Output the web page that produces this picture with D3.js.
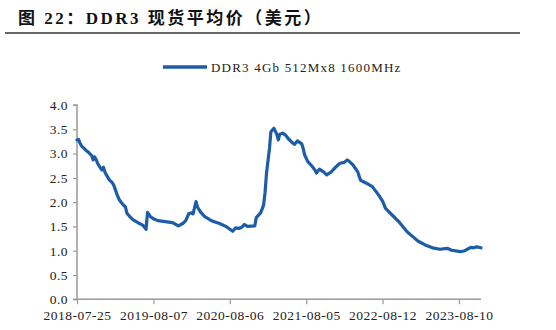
<!DOCTYPE html>
<html>
<head>
<meta charset="utf-8">
<script src="https://cdn.jsdelivr.net/npm/d3@7"></script>
<style>
  html, body { margin: 0; padding: 0; background: #fff; }
  svg { display: block; }
</style>
</head>
<body>
<svg id="chart" width="556" height="330"></svg>
<script>
// DDR3 4Gb 512Mx8 1600MHz spot average price (USD), weekly observations
const seriesName = "DDR3 4Gb 512Mx8 1600MHz";
const weeks = [0,1,2,3,6,8,10,11,12,13,14,16,17,18,19,20,22,24,25,27,28,29,31,33,34,36,38,42,45,47,48,50,52,55,60,65,69,72,74,76,78,79,81,82,84,87,92,97,102,106,108,110,112,114,116,121,122,125,127,128,129,131,132,134,136,137,138,140,142,144,146,148,150,153,154,155,157,160,162,163,165,167,168,170,173,176,179,182,184,186,188,191,193,197,201,205,208,210,215,219,222,225,229,232,237,242,247,252,255,261,264,268,270,272,275];
const prices = [3.28,3.29,3.22,3.16,3.07,3.02,2.96,2.87,2.93,2.88,2.80,2.70,2.66,2.72,2.62,2.56,2.46,2.40,2.35,2.18,2.10,2.04,1.96,1.90,1.77,1.70,1.64,1.57,1.52,1.44,1.79,1.70,1.66,1.62,1.60,1.58,1.51,1.56,1.62,1.76,1.78,1.76,2.01,1.90,1.80,1.70,1.61,1.56,1.49,1.40,1.47,1.46,1.48,1.54,1.50,1.51,1.68,1.78,1.94,2.20,2.60,3.10,3.45,3.52,3.40,3.28,3.40,3.42,3.38,3.30,3.24,3.19,3.26,3.20,3.10,2.97,2.84,2.74,2.66,2.60,2.68,2.64,2.62,2.56,2.62,2.72,2.80,2.82,2.87,2.82,2.76,2.63,2.45,2.39,2.32,2.16,2.02,1.87,1.72,1.60,1.49,1.38,1.28,1.20,1.12,1.06,1.03,1.05,1.01,0.98,1.00,1.07,1.06,1.08,1.06];
const tickWeeks = [0, 52, 104, 156, 208, 260];
const tickLabels = ["2018-07-25", "2019-08-07", "2020-08-06", "2021-08-05", "2022-08-12", "2023-08-10"];
const yTicks = [0, 0.5, 1.0, 1.5, 2.0, 2.5, 3.0, 3.5, 4.0];

const svg = d3.select("#chart");
const serif = "'Liberation Serif', 'Times New Roman', serif";
const titleFont = "'Liberation Serif', 'Noto Sans CJK SC', serif";
const lineColor = "#1d5ca9";
const axisColor = "#9a9a9a";

const m = { left: 77, right: 481, top: 105, bottom: 299.3 };
const x = d3.scaleLinear().domain([0, 275]).range([m.left, m.right]);
const y = d3.scaleLinear().domain([0, 4]).range([m.bottom, m.top]);

// Title and rule
svg.append("text")
  .attr("x", 18).attr("y", 24)
  .attr("font-family", titleFont)
  .attr("font-size", 17).attr("font-weight", "bold")
  .attr("letter-spacing", 2.5)
  .attr("fill", "#111")
  .text("图 22：DDR3 现货平均价（美元）");
svg.append("line")
  .attr("x1", 5).attr("x2", 520).attr("y1", 33).attr("y2", 33)
  .attr("stroke", "#333").attr("stroke-width", 1.5);

// Legend
svg.append("line")
  .attr("x1", 163).attr("x2", 207).attr("y1", 67).attr("y2", 67)
  .attr("stroke", lineColor).attr("stroke-width", 3.5);
svg.append("text")
  .attr("x", 211).attr("y", 71.5)
  .attr("font-family", serif).attr("font-size", 13).attr("fill", "#222")
  .attr("letter-spacing", 1.2)
  .text(seriesName);

// Axes
const yAxis = d3.axisLeft(y).tickValues(yTicks).tickFormat(d3.format(".1f")).tickSize(4).tickPadding(5);
const gy = svg.append("g").attr("transform", `translate(${m.left},0)`).call(yAxis);
const xAxis = d3.axisBottom(x).tickValues(tickWeeks).tickFormat((d, i) => tickLabels[i]).tickSize(5).tickPadding(6);
const gx = svg.append("g").attr("transform", `translate(0,${m.bottom})`).call(xAxis);

[gx, gy].forEach(g => {
  g.select(".domain").attr("stroke", axisColor).attr("stroke-width", 1.5);
  g.selectAll(".tick line").attr("stroke", axisColor).attr("stroke-width", 1.2);
  g.selectAll(".tick text")
    .attr("font-family", serif).attr("font-size", 13.5).attr("fill", "#222")
    .attr("letter-spacing", 0.5);
});
gy.select(".domain").attr("d", `M-4,${m.bottom}H0V${m.top}H-4`);
gx.select(".domain").attr("d", `M${m.left},0H${m.right}`);

// Price line
const data = weeks.map((w, i) => ({ w, v: prices[i] }));
svg.append("path")
  .datum(data)
  .attr("fill", "none")
  .attr("stroke", lineColor)
  .attr("stroke-width", 3.2)
  .attr("stroke-linejoin", "round")
  .attr("stroke-linecap", "round")
  .attr("d", d3.line().x(d => x(d.w)).y(d => y(d.v)));
</script>
</body>
</html>
